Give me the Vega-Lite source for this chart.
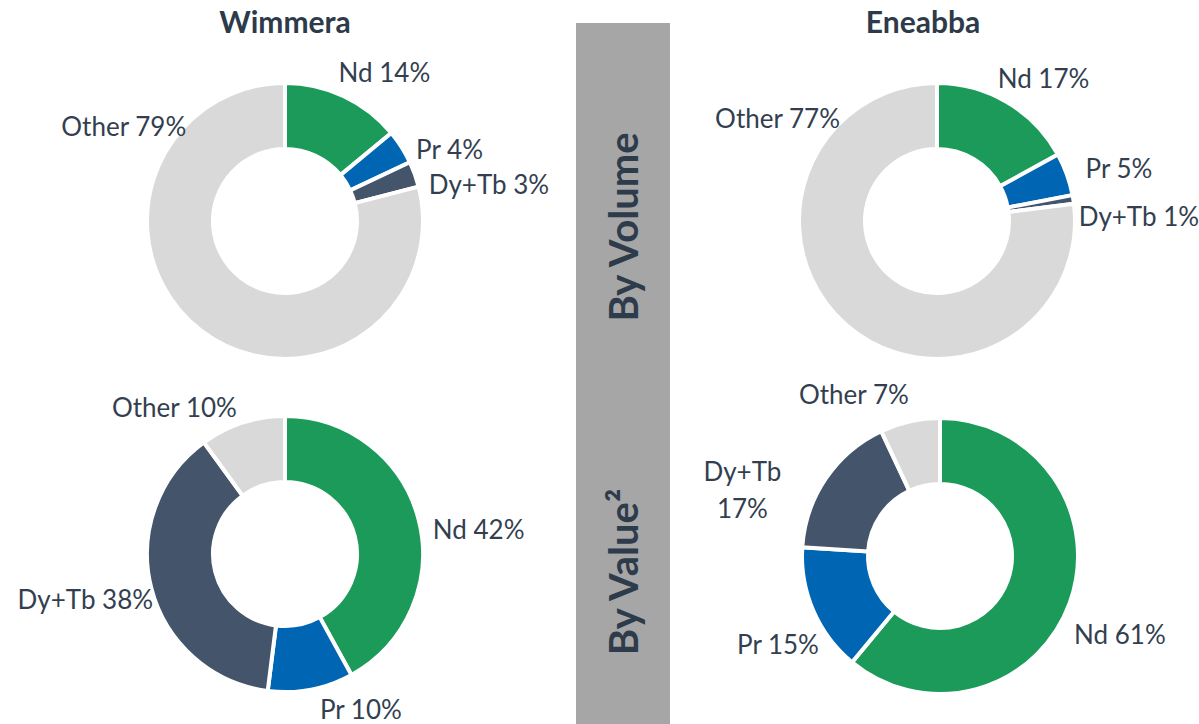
{
  "$schema": "https://vega.github.io/schema/vega-lite/v6.json",
  "background": "white",
  "padding": {"top": 9, "left": 0, "right": 0, "bottom": 0},
  "autosize": {"type": "pad"},
  "bounds": "flush",
  "columns": 3,
  "spacing": {"row": 0, "column": 6},
  "config": {
    "view": {"stroke": null},
    "font": "Lato",
    "title": {"font": "Lato", "fontSize": 30, "fontWeight": "bold", "color": "#2c3a4a", "anchor": "middle", "frame": "group", "baseline": "middle", "offset": -16},
    "text": {"font": "Lato", "fontSize": 26, "color": "#333f50", "lineBreak": "\n", "lineHeight": 37},
    "arc": {"outerRadius": 138, "innerRadius": 72, "stroke": "white", "strokeWidth": 4}
  },
  "datasets": {
    "d": [
      {"site": "Wimmera", "measure": "Volume", "cat": "Nd", "ord": 1, "pct": 14, "label": "Nd 14%"},
      {"site": "Wimmera", "measure": "Volume", "cat": "Pr", "ord": 2, "pct": 4, "label": "Pr 4%"},
      {"site": "Wimmera", "measure": "Volume", "cat": "Dy+Tb", "ord": 3, "pct": 3, "label": "Dy+Tb 3%"},
      {"site": "Wimmera", "measure": "Volume", "cat": "Other", "ord": 4, "pct": 79, "label": "Other 79%"},
      {"site": "Wimmera", "measure": "Value", "cat": "Nd", "ord": 1, "pct": 42, "label": "Nd 42%"},
      {"site": "Wimmera", "measure": "Value", "cat": "Pr", "ord": 2, "pct": 10, "label": "Pr 10%"},
      {"site": "Wimmera", "measure": "Value", "cat": "Dy+Tb", "ord": 3, "pct": 38, "label": "Dy+Tb 38%"},
      {"site": "Wimmera", "measure": "Value", "cat": "Other", "ord": 4, "pct": 10, "label": "Other 10%"},
      {"site": "Eneabba", "measure": "Volume", "cat": "Nd", "ord": 1, "pct": 17, "label": "Nd 17%"},
      {"site": "Eneabba", "measure": "Volume", "cat": "Pr", "ord": 2, "pct": 5, "label": "Pr 5%"},
      {"site": "Eneabba", "measure": "Volume", "cat": "Dy+Tb", "ord": 3, "pct": 1, "label": "Dy+Tb 1%"},
      {"site": "Eneabba", "measure": "Volume", "cat": "Other", "ord": 4, "pct": 77, "label": "Other 77%"},
      {"site": "Eneabba", "measure": "Value", "cat": "Nd", "ord": 1, "pct": 61, "label": "Nd 61%"},
      {"site": "Eneabba", "measure": "Value", "cat": "Pr", "ord": 2, "pct": 15, "label": "Pr 15%"},
      {"site": "Eneabba", "measure": "Value", "cat": "Dy+Tb", "ord": 3, "pct": 17, "label": "Dy+Tb\n17%"},
      {"site": "Eneabba", "measure": "Value", "cat": "Other", "ord": 4, "pct": 7, "label": "Other 7%"}
    ]
  },
  "concat": [
    {
      "width": 570, "height": 396,
      "title": {"text": "Wimmera"},
      "data": {"name": "d"},
      "transform": [{"filter": "datum.site === 'Wimmera' && datum.measure === 'Volume'"}],
      "encoding": {
        "theta": {"field": "pct", "type": "quantitative", "stack": true},
        "order": {"field": "ord", "type": "quantitative"},
        "detail": {"field": "cat"}
      },
      "layer": [
        {"mark": {"type": "arc"},
         "encoding": {"color": {"field": "cat", "type": "nominal", "scale": {"domain": ["Nd", "Pr", "Dy+Tb", "Other"], "range": ["#1b9a59", "#0066b3", "#44546a", "#d9d9d9"]}, "legend": null}}},
        {"mark": {"type": "text", "radius": 170,
           "dx": {"expr": "datum.cat === 'Nd' ? 27 : datum.cat === 'Pr' ? 21 : datum.cat === 'Dy+Tb' ? 44 : -57"},
           "dy": {"expr": "datum.cat === 'Nd' ? 7 : datum.cat === 'Pr' ? 21 : datum.cat === 'Dy+Tb' ? 23 : -227"}},
         "encoding": {"text": {"field": "label"}}}
      ]
    },
    {
      "width": 94, "height": 396,
      "view": {"fill": "#a6a6a6", "stroke": null},
      "data": {"values": [{"label": "By Volume"}]},
      "mark": {"type": "text", "angle": 270, "dx": -6, "dy": 3, "fontWeight": "bold", "fontSize": 40, "color": "#2d3b4b"},
      "encoding": {"text": {"field": "label", "type": "nominal"}}
    },
    {
      "width": 522, "height": 396,
      "title": {"text": "Eneabba", "dx": -14},
      "data": {"name": "d"},
      "transform": [{"filter": "datum.site === 'Eneabba' && datum.measure === 'Volume'"}],
      "encoding": {
        "theta": {"field": "pct", "type": "quantitative", "stack": true},
        "order": {"field": "ord", "type": "quantitative"},
        "detail": {"field": "cat"}
      },
      "layer": [
        {"mark": {"type": "arc"},
         "encoding": {"color": {"field": "cat", "type": "nominal", "scale": {"domain": ["Nd", "Pr", "Dy+Tb", "Other"], "range": ["#1b9a59", "#0066b3", "#44546a", "#d9d9d9"]}, "legend": null}}},
        {"mark": {"type": "text", "radius": 170,
           "dx": {"expr": "datum.cat === 'Nd' ? 20 : datum.cat === 'Pr' ? 22 : datum.cat === 'Dy+Tb' ? 34 : -47"},
           "dy": {"expr": "datum.cat === 'Nd' ? 5 : datum.cat === 'Pr' ? 7 : datum.cat === 'Dy+Tb' ? 24 : -229"}},
         "encoding": {"text": {"field": "label"}}}
      ]
    },
    {
      "width": 570, "height": 270,
      "data": {"name": "d"},
      "transform": [{"filter": "datum.site === 'Wimmera' && datum.measure === 'Value'"}],
      "encoding": {
        "theta": {"field": "pct", "type": "quantitative", "stack": true},
        "order": {"field": "ord", "type": "quantitative"},
        "detail": {"field": "cat"}
      },
      "layer": [
        {"mark": {"type": "arc"},
         "encoding": {"color": {"field": "cat", "type": "nominal", "scale": {"domain": ["Nd", "Pr", "Dy+Tb", "Other"], "range": ["#1b9a59", "#0066b3", "#44546a", "#d9d9d9"]}, "legend": null}}},
        {"mark": {"type": "text", "radius": 170,
           "dx": {"expr": "datum.cat === 'Nd' ? 29 : datum.cat === 'Pr' ? 44 : datum.cat === 'Dy+Tb' ? -35 : -58"},
           "dy": {"expr": "datum.cat === 'Nd' ? 19 : datum.cat === 'Pr' ? -10 : datum.cat === 'Dy+Tb' ? 5 : 17"}},
         "encoding": {"text": {"field": "label"}}}
      ]
    },
    {
      "width": 94, "height": 306,
      "view": {"fill": "#a6a6a6", "stroke": null},
      "data": {"values": [{"label": "By Value²"}]},
      "mark": {"type": "text", "angle": 270, "dy": 3, "fontWeight": "bold", "fontSize": 40, "color": "#2d3b4b"},
      "encoding": {"text": {"field": "label", "type": "nominal"}}
    },
    {
      "width": 528, "height": 274,
      "data": {"name": "d"},
      "transform": [{"filter": "datum.site === 'Eneabba' && datum.measure === 'Value'"}],
      "encoding": {
        "theta": {"field": "pct", "type": "quantitative", "stack": true},
        "order": {"field": "ord", "type": "quantitative"},
        "detail": {"field": "cat"}
      },
      "layer": [
        {"mark": {"type": "arc"},
         "encoding": {"color": {"field": "cat", "type": "nominal", "scale": {"domain": ["Nd", "Pr", "Dy+Tb", "Other"], "range": ["#1b9a59", "#0066b3", "#44546a", "#d9d9d9"]}, "legend": null}}},
        {"mark": {"type": "text", "radius": 170,
           "dx": {"expr": "datum.cat === 'Nd' ? 20 : datum.cat === 'Pr' ? -6 : datum.cat === 'Dy+Tb' ? -57 : -49"},
           "dy": {"expr": "datum.cat === 'Nd' ? 22 : datum.cat === 'Pr' ? 22 : datum.cat === 'Dy+Tb' ? 13 : 6"}},
         "encoding": {"text": {"field": "label"}}}
      ]
    }
  ]
}
